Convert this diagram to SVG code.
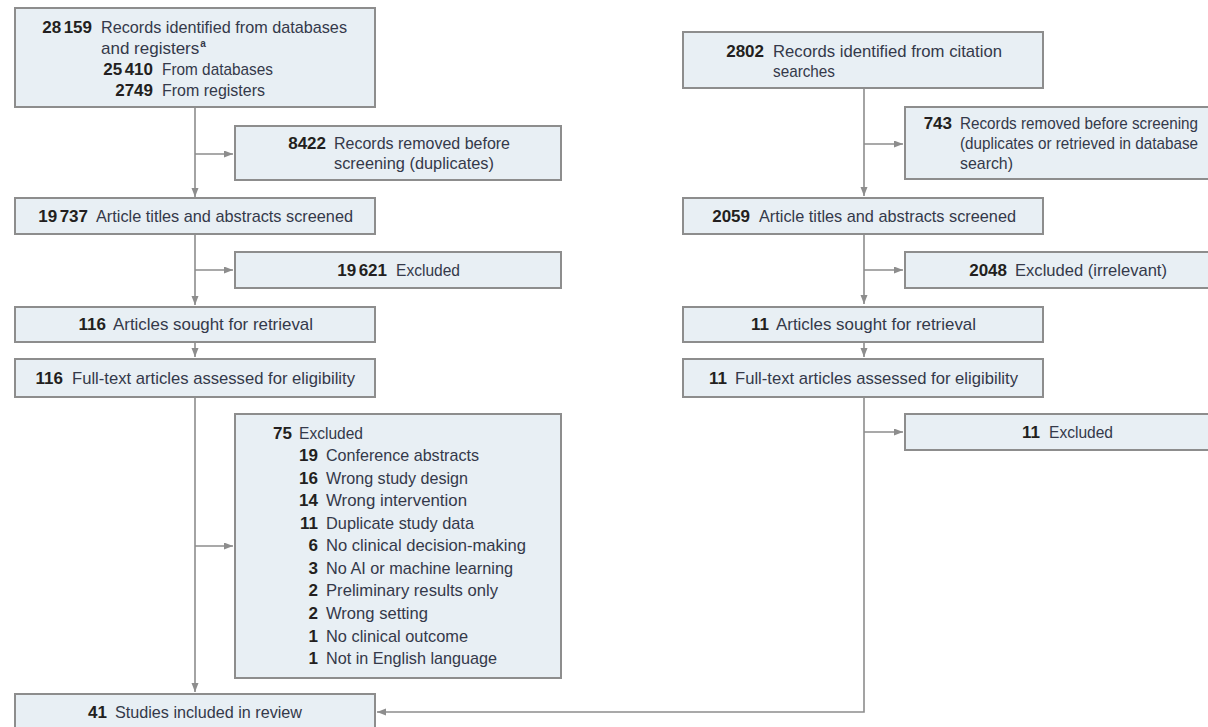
<svg xmlns="http://www.w3.org/2000/svg" width="1208" height="727" viewBox="0 0 1208 727">
  <style>
    .box { fill: #e8eff4; stroke: #8d8d8d; stroke-width: 2; }
    .num { font-family: "Liberation Sans", Arial, sans-serif; font-size: 17px; font-weight: bold; fill: #231f20; text-anchor: end; }
    .lbl { font-family: "Liberation Sans", Arial, sans-serif; font-size: 17px; fill: #34394a; }
    .sup { font-size: 10px; font-weight: bold; }
    .link { fill: none; stroke: #8d8d8d; stroke-width: 1.6; }
  </style>
  <defs>
    <marker id="arrow" markerUnits="userSpaceOnUse" markerWidth="10" markerHeight="8" refX="9" refY="3.5" orient="auto">
      <path d="M0,0 L9,3.5 L0,7 Z" fill="#8d8d8d"/>
    </marker>
  </defs>
  <rect width="1208" height="727" fill="#ffffff"/>

  <!-- connectors -->
  <g id="connectors">
    <path class="link" d="M195,107 V197" marker-end="url(#arrow)"/>
    <path class="link" d="M195,154 H233" marker-end="url(#arrow)"/>
    <path class="link" d="M195,234 V305" marker-end="url(#arrow)"/>
    <path class="link" d="M195,270 H233" marker-end="url(#arrow)"/>
    <path class="link" d="M195,342 V357" marker-end="url(#arrow)"/>
    <path class="link" d="M195,397 V692" marker-end="url(#arrow)"/>
    <path class="link" d="M195,546 H233" marker-end="url(#arrow)"/>
    <path class="link" d="M864,88 V196" marker-end="url(#arrow)"/>
    <path class="link" d="M864,144 H903" marker-end="url(#arrow)"/>
    <path class="link" d="M864,234 V304" marker-end="url(#arrow)"/>
    <path class="link" d="M864,270 H903" marker-end="url(#arrow)"/>
    <path class="link" d="M864,342 V357" marker-end="url(#arrow)"/>
    <path class="link" d="M864,397 V712 H377" marker-end="url(#arrow)"/>
    <path class="link" d="M864,432 H903" marker-end="url(#arrow)"/>
  </g>

  <!-- database / register branch -->
  <g id="identified-db">
    <rect class="box" x="15" y="8" width="360" height="99"/>
    <text class="num" x="92" y="33">28<tspan dx="2.5">159</tspan></text>
    <text class="lbl" x="101" y="33" textLength="246" lengthAdjust="spacingAndGlyphs">Records identified from databases</text>
    <text class="lbl" x="101" y="54">and registers<tspan class="sup" dx="1" dy="-7">a</tspan></text>
    <text class="num" x="153" y="75">25<tspan dx="2.5">410</tspan></text>
    <text class="lbl" x="162" y="75" textLength="111" lengthAdjust="spacingAndGlyphs">From databases</text>
    <text class="num" x="153" y="96">2749</text>
    <text class="lbl" x="162" y="96" textLength="103" lengthAdjust="spacingAndGlyphs">From registers</text>
  </g>
  <g id="removed-db">
    <rect class="box" x="235" y="126" width="326" height="54"/>
    <text class="num" x="326" y="149">8422</text>
    <text class="lbl" x="334" y="149" textLength="176" lengthAdjust="spacingAndGlyphs">Records removed before</text>
    <text class="lbl" x="334" y="169" textLength="160" lengthAdjust="spacingAndGlyphs">screening (duplicates)</text>
  </g>
  <g id="screened-db">
    <rect class="box" x="15" y="198" width="360" height="36"/>
    <text class="num" x="88" y="222">19<tspan dx="2.5">737</tspan></text>
    <text class="lbl" x="96" y="222" textLength="257" lengthAdjust="spacingAndGlyphs">Article titles and abstracts screened</text>
  </g>
  <g id="excluded-screen-db">
    <rect class="box" x="235" y="252" width="326" height="36"/>
    <text class="num" x="387" y="276">19<tspan dx="2.5">621</tspan></text>
    <text class="lbl" x="396" y="276" textLength="64" lengthAdjust="spacingAndGlyphs">Excluded</text>
  </g>
  <g id="sought-db">
    <rect class="box" x="15" y="307" width="360" height="35"/>
    <text class="num" x="106" y="330">116</text>
    <text class="lbl" x="113" y="330" textLength="200" lengthAdjust="spacingAndGlyphs">Articles sought for retrieval</text>
  </g>
  <g id="assessed-db">
    <rect class="box" x="15" y="359" width="360" height="38"/>
    <text class="num" x="63" y="384">116</text>
    <text class="lbl" x="72" y="384" textLength="283" lengthAdjust="spacingAndGlyphs">Full-text articles assessed for eligibility</text>
  </g>
  <g id="excluded-fulltext-db">
    <rect class="box" x="235" y="414" width="326" height="264"/>
    <text class="num" x="292" y="439">75</text>
    <text class="lbl" x="299" y="439" textLength="64" lengthAdjust="spacingAndGlyphs">Excluded</text>
    <text class="num" x="318" y="461">19</text>
    <text class="lbl" x="326" y="461" textLength="153" lengthAdjust="spacingAndGlyphs">Conference abstracts</text>
    <text class="num" x="318" y="483.6">16</text>
    <text class="lbl" x="326" y="483.6" textLength="142" lengthAdjust="spacingAndGlyphs">Wrong study design</text>
    <text class="num" x="318" y="506.1">14</text>
    <text class="lbl" x="326" y="506.1" textLength="141" lengthAdjust="spacingAndGlyphs">Wrong intervention</text>
    <text class="num" x="318" y="528.7">11</text>
    <text class="lbl" x="326" y="528.7" textLength="148" lengthAdjust="spacingAndGlyphs">Duplicate study data</text>
    <text class="num" x="318" y="551.2">6</text>
    <text class="lbl" x="326" y="551.2" textLength="200" lengthAdjust="spacingAndGlyphs">No clinical decision-making</text>
    <text class="num" x="318" y="573.8">3</text>
    <text class="lbl" x="326" y="573.8" textLength="187" lengthAdjust="spacingAndGlyphs">No AI or machine learning</text>
    <text class="num" x="318" y="596.4">2</text>
    <text class="lbl" x="326" y="596.4" textLength="172" lengthAdjust="spacingAndGlyphs">Preliminary results only</text>
    <text class="num" x="318" y="618.9">2</text>
    <text class="lbl" x="326" y="618.9" textLength="102" lengthAdjust="spacingAndGlyphs">Wrong setting</text>
    <text class="num" x="318" y="641.5">1</text>
    <text class="lbl" x="326" y="641.5" textLength="142" lengthAdjust="spacingAndGlyphs">No clinical outcome</text>
    <text class="num" x="318" y="664">1</text>
    <text class="lbl" x="326" y="664" textLength="171" lengthAdjust="spacingAndGlyphs">Not in English language</text>
  </g>
  <g id="included">
    <rect class="box" x="15" y="694" width="360" height="38"/>
    <text class="num" x="107" y="718">41</text>
    <text class="lbl" x="115" y="718" textLength="187" lengthAdjust="spacingAndGlyphs">Studies included in review</text>
  </g>

  <!-- citation search branch -->
  <g id="identified-citation">
    <rect class="box" x="683" y="32" width="360" height="56"/>
    <text class="num" x="764" y="57">2802</text>
    <text class="lbl" x="773" y="57" textLength="229" lengthAdjust="spacingAndGlyphs">Records identified from citation</text>
    <text class="lbl" x="773" y="77" textLength="62" lengthAdjust="spacingAndGlyphs">searches</text>
  </g>
  <g id="removed-citation">
    <rect class="box" x="905" y="107" width="325" height="72"/>
    <text class="num" x="952" y="129">743</text>
    <text class="lbl" x="960" y="129" textLength="238" lengthAdjust="spacingAndGlyphs">Records removed before screening</text>
    <text class="lbl" x="960" y="149" textLength="238" lengthAdjust="spacingAndGlyphs">(duplicates or retrieved in database</text>
    <text class="lbl" x="960" y="169" textLength="53" lengthAdjust="spacingAndGlyphs">search)</text>
  </g>
  <g id="screened-citation">
    <rect class="box" x="683" y="198" width="360" height="36"/>
    <text class="num" x="750" y="222">2059</text>
    <text class="lbl" x="759" y="222" textLength="257" lengthAdjust="spacingAndGlyphs">Article titles and abstracts screened</text>
  </g>
  <g id="excluded-screen-citation">
    <rect class="box" x="905" y="252" width="325" height="36"/>
    <text class="num" x="1007" y="276">2048</text>
    <text class="lbl" x="1015" y="276" textLength="152" lengthAdjust="spacingAndGlyphs">Excluded (irrelevant)</text>
  </g>
  <g id="sought-citation">
    <rect class="box" x="683" y="307" width="360" height="35"/>
    <text class="num" x="769" y="330">11</text>
    <text class="lbl" x="776" y="330" textLength="200" lengthAdjust="spacingAndGlyphs">Articles sought for retrieval</text>
  </g>
  <g id="assessed-citation">
    <rect class="box" x="683" y="359" width="360" height="38"/>
    <text class="num" x="727" y="384">11</text>
    <text class="lbl" x="735" y="384" textLength="283" lengthAdjust="spacingAndGlyphs">Full-text articles assessed for eligibility</text>
  </g>
  <g id="excluded-fulltext-citation">
    <rect class="box" x="905" y="414" width="325" height="36"/>
    <text class="num" x="1040" y="438">11</text>
    <text class="lbl" x="1049" y="438" textLength="64" lengthAdjust="spacingAndGlyphs">Excluded</text>
  </g>
</svg>
